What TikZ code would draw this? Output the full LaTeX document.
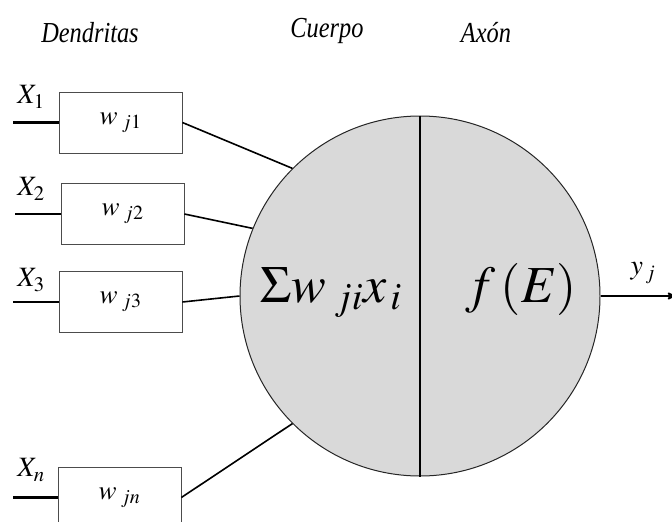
\documentclass[tikz,border=0pt]{standalone}
\usepackage{mathptmx}
\usepackage[no-math]{fontspec}
\setmainfont{Liberation Serif}
\newfontfamily\titulofont[FakeStretch=0.84]{Liberation Serif}
\usetikzlibrary{arrows,calc}
\tikzset{
  peso/.style={draw=black!70,line width=0.8pt,minimum width=123pt,minimum height=61pt,inner sep=0pt,font=\fontsize{27}{27}\selectfont},
  entrada/.style={line width=2.2pt},
  sinapsis/.style={line width=1.6pt},
  titulo/.style={anchor=base,font=\titulofont\fontsize{29}{29}\selectfont\itshape},
  etiq/.style={font=\fontsize{28}{28}\selectfont},
  grande/.style={anchor=base,font=\fontsize{52}{52}\selectfont},
}
\newcommand{\pesotxt}[1]{\raisebox{-3pt}{$w_{\;j#1}$}\hspace{10pt}}

\begin{document}
\begin{tikzpicture}[x=1pt,y=-1pt]
    \useasboundingbox (0,0) rectangle (672,522);
    % titulos
    \node [titulo] (tdend) at (90,42) {Dendritas};
    \node [titulo] (tcuerpo) at (327,37) {Cuerpo};
    \node [titulo] (taxon) at (486,42) {Axón};
    % cuerpo de la neurona
    \node [draw=black!85,line width=1pt,fill=black!15,circle,minimum size=360pt,inner sep=0pt] (cuerpo) at (420,296) {};
    \draw [line width=1.8pt] (cuerpo.north) -- (cuerpo.south);
    \node [grande] (suma) at (331,302) {$\Sigma w_{\;ji}x_{\,i}$};
    \node [grande] (fe) at (521,302) {$f\,(E)$};
    % pesos
    \node [peso] (w1) at (120.5,122.5) {\pesotxt{1}};
    \node [peso] (w2) at (122.5,214) {\pesotxt{2}};
    \node [peso] (w3) at (120.5,302) {\pesotxt{3}};
    \node [peso] (wn) at (119.5,497.5) {\pesotxt{n}};
    % entradas
    \coordinate (x1) at (13,122.5);
    \coordinate (x2) at (15,214);
    \coordinate (x3) at (13,302);
    \coordinate (xn) at (13,497.5);
    \draw [entrada] (x1) -- (w1);
    \draw [entrada] (x2) -- (w2);
    \draw [entrada] (x3) -- (w3);
    \draw [entrada] (xn) -- (wn);
    \node [etiq] (lx1) at (31,97) {$X_{1}$};
    \node [etiq] (lx2) at (31,189) {$X_{2}$};
    \node [etiq] (lx3) at (31,280) {$X_{3}$};
    \node [etiq] (lxn) at (31,470) {$X_{n}$};
    % sinapsis
    \draw [sinapsis] (w1.east) -- (cuerpo.135);
    \draw [sinapsis] (w2.east) -- (cuerpo.158);
    \draw [sinapsis] (w3.east) -- (cuerpo.180);
    \draw [sinapsis] (wn.east) -- (cuerpo.225);
    % salida
    \coordinate (sal) at (676,296);
    \draw [-stealth',line width=1.8pt] (cuerpo.east) -- (sal);
    \node [etiq] (ly) at (643,273) {$y_{\,j}$};
\end{tikzpicture}
\end{document}
